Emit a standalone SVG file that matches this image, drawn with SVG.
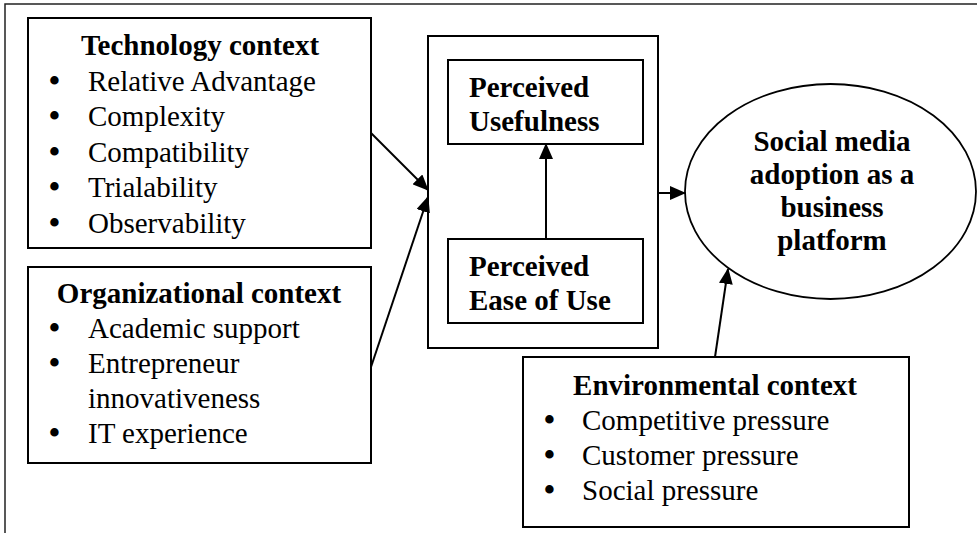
<svg xmlns="http://www.w3.org/2000/svg" width="977" height="533" viewBox="0 0 977 533">
  <style>
    .box { fill: #fff; stroke: #000; stroke-width: 2; }
    .frame { fill: none; stroke: #222; stroke-width: 1.5; }
    .t { font-family: "Liberation Serif", "Times New Roman", serif; font-size: 29px; fill: #000; }
    .b { font-weight: bold; }
    .mid { text-anchor: middle; }
    .bul { font-size: 31px; font-weight: bold; }
    .edge { stroke: #000; stroke-width: 2; fill: none; marker-end: url(#arrow); }
  </style>
  <defs>
    <marker id="arrow" viewBox="0 0 16 14" refX="15" refY="7" markerWidth="16" markerHeight="14" markerUnits="userSpaceOnUse" orient="auto">
      <path d="M0,0 L16,7 L0,14 z" fill="#000"/>
    </marker>
  </defs>
  <rect width="977" height="533" fill="#fff"/>
  <rect class="frame" x="5" y="4" width="1000" height="600"/>

  <g id="technology">
    <rect class="box" x="28" y="18" width="343" height="230"/>
    <text class="t b mid" x="200" y="55">Technology context</text>
    <text class="t" x="49" y="91"><tspan class="bul">•</tspan><tspan x="88">Relative Advantage</tspan></text>
    <text class="t" x="49" y="126"><tspan class="bul">•</tspan><tspan x="88">Complexity</tspan></text>
    <text class="t" x="49" y="162"><tspan class="bul">•</tspan><tspan x="88">Compatibility</tspan></text>
    <text class="t" x="49" y="197"><tspan class="bul">•</tspan><tspan x="88">Trialability</tspan></text>
    <text class="t" x="49" y="233"><tspan class="bul">•</tspan><tspan x="88">Observability</tspan></text>
  </g>

  <g id="organizational">
    <rect class="box" x="28" y="267" width="343" height="196"/>
    <text class="t b mid" x="199" y="303">Organizational context</text>
    <text class="t" x="49" y="338"><tspan class="bul">•</tspan><tspan x="88">Academic support</tspan></text>
    <text class="t" x="49" y="373"><tspan class="bul">•</tspan><tspan x="88">Entrepreneur</tspan></text>
    <text class="t" x="88" y="408">innovativeness</text>
    <text class="t" x="49" y="443"><tspan class="bul">•</tspan><tspan x="88">IT experience</tspan></text>
  </g>

  <g id="tam">
    <rect class="box" x="428" y="36" width="230" height="312"/>
  </g>

  <g id="pu">
    <rect class="box" x="448" y="60" width="195" height="84"/>
    <text class="t b" x="469" y="97">Perceived</text>
    <text class="t b" x="469" y="131">Usefulness</text>
  </g>

  <g id="peou">
    <rect class="box" x="448" y="239" width="195" height="84"/>
    <text class="t b" x="469" y="276">Perceived</text>
    <text class="t b" x="469" y="310">Ease of Use</text>
  </g>

  <g id="adoption">
    <ellipse cx="830.5" cy="191.5" rx="145.5" ry="107.5" fill="#fff" stroke="#000" stroke-width="1.8"/>
    <text class="t b mid" x="832" y="151">Social media</text>
    <text class="t b mid" x="832" y="184">adoption as a</text>
    <text class="t b mid" x="832" y="217">business</text>
    <text class="t b mid" x="832" y="250">platform</text>
  </g>

  <g id="environmental">
    <rect class="box" x="523" y="357" width="386" height="170"/>
    <text class="t b mid" x="715" y="395">Environmental context</text>
    <text class="t" x="544" y="430"><tspan class="bul">•</tspan><tspan x="582">Competitive pressure</tspan></text>
    <text class="t" x="544" y="465"><tspan class="bul">•</tspan><tspan x="582">Customer pressure</tspan></text>
    <text class="t" x="544" y="500"><tspan class="bul">•</tspan><tspan x="582">Social pressure</tspan></text>
  </g>

  <g id="connectors">
    <line class="edge" x1="371" y1="133" x2="428" y2="190"/>
    <line class="edge" x1="371" y1="367" x2="428" y2="197"/>
    <line class="edge" x1="546" y1="239" x2="546" y2="144"/>
    <line class="edge" x1="658" y1="193" x2="685" y2="193"/>
    <line class="edge" x1="715" y1="357" x2="728" y2="269"/>
  </g>
</svg>
